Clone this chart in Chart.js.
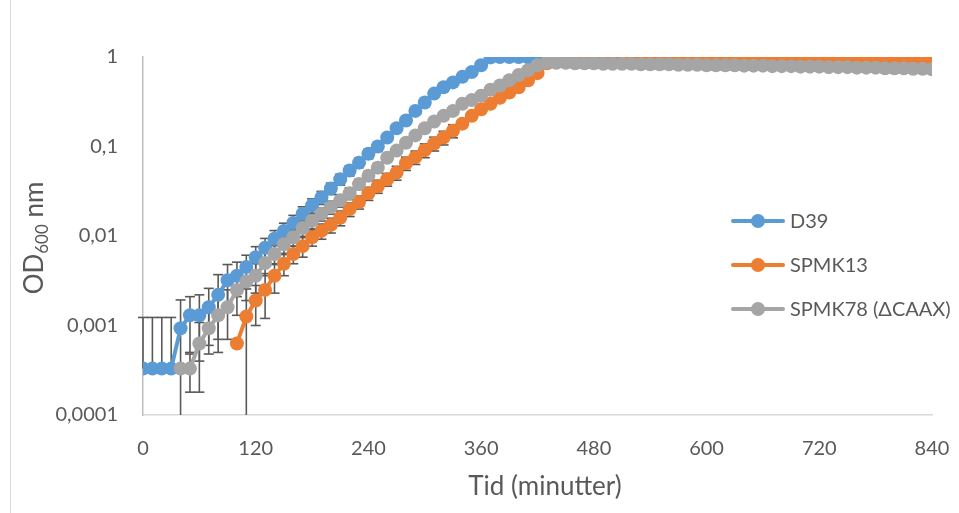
<!DOCTYPE html>
<html><head><meta charset="utf-8">
<script src="https://cdn.jsdelivr.net/npm/chart.js@4/dist/chart.umd.min.js"></script>
<style>html,body{margin:0;padding:0;background:#fff;}#wrap{width:959px;height:513px;position:relative;}</style>
</head><body><div id="wrap"><canvas id="c" width="959" height="513"></canvas></div>
<script>
const times = [0,10,20,30,40,50,60,70,80,90,100,110,120,130,140,150,160,170,180,190,200,210,220,230,240,250,260,270,280,290,300,310,320,330,340,350,360,370,380,390,400,410,420,430,440,450,460,470,480,490,500,510,520,530,540,550,560,570,580,590,600,610,620,630,640,650,660,670,680,690,700,710,720,730,740,750,760,770,780,790,800,810,820,830,840];
const seriesNames = ['D39','SPMK13','SPMK78 (ΔCAAX)'];
const d39 = [0.00033,0.00033,0.00033,0.00033,0.00093,0.0013,0.0013,0.0016,0.0022,0.0032,
 0.0036,0.0045,0.0058,0.0074,0.0093,0.0114,0.014,0.0177,0.022,0.027,
 0.034,0.043,0.054,0.066,0.083,0.10,0.126,0.16,0.195,0.25,
 0.31,0.39,0.46,0.52,0.60,0.68,0.81,0.99,1.0,1.0,
 1.0,0.99,0.99,0.99,
 1.0,1.0,1.0,1.0,1.0,1.0,1.0,1.0,0.99,0.99,0.99,
 0.99,0.99,0.99,0.99,0.99,0.99,0.99,0.99,0.99,0.99,
 0.99,0.99,0.98,0.98,0.98,0.98,0.98,0.98,0.98,0.98,
 0.98,0.98,0.98,0.98,0.98,0.98,0.97,0.97,0.97,0.97];
const spmk13 = [null,null,null,null,null,null,null,null,null,null,
 0.00063,0.00126,0.0019,0.0025,0.0036,0.0049,0.0063,0.0077,0.0097,0.0114,
 0.0133,0.016,0.020,0.024,0.030,0.036,0.043,0.051,0.065,0.076,
 0.091,0.108,0.126,0.15,0.18,0.22,0.26,0.30,0.35,0.40,
 0.46,0.55,0.66,0.85,
 0.97,1.0,0.99,0.98,0.97,0.97,0.97,0.97,0.96,0.96,0.96,
 0.96,0.96,0.96,0.95,0.95,0.95,0.95,0.95,0.95,0.95,
 0.94,0.94,0.94,0.94,0.94,0.94,0.94,0.93,0.93,0.93,
 0.93,0.93,0.93,0.93,0.93,0.93,0.92,0.92,0.92,0.92];
const spmk78 = [null,null,null,null,0.00033,0.00033,0.00063,0.00093,0.0013,0.0016,
 0.0025,0.0031,0.0036,0.0050,0.0063,0.0081,0.0097,0.0123,0.0148,0.0177,
 0.021,0.025,0.030,0.038,0.047,0.058,0.075,0.090,0.11,0.133,
 0.16,0.19,0.22,0.25,0.30,0.33,0.37,0.43,0.48,0.55,
 0.63,0.71,0.81,0.87,
 0.86,0.86,0.85,0.85,0.85,0.84,0.84,0.84,0.84,0.83,0.83,
 0.83,0.83,0.82,0.82,0.82,0.81,0.81,0.81,0.81,0.80,
 0.80,0.80,0.79,0.79,0.79,0.78,0.78,0.78,0.77,0.77,
 0.77,0.76,0.76,0.76,0.75,0.75,0.75,0.74,0.74,0.73];
const d39ErrUp = [0.0009,0.0009,0.0009,0.0009,0.001,0.0008,0.0009,0.001,0.0015,0.0016,0.0015,0.0016,0.0018,0.002,0.0022,0.0025,0.003,0.0035,0.004,0.0045,0.005,0.006,0.007,0.008,0.01,0.012];
const d39ErrDown = [0,0,0,0,0.001,0.0008,0.0009,0.001,0.0015,0.0016,0.0015,0.0016,0.0018,0.002,0.0022,0.0025,0.003,0.0035,0.004,0.0045,0.005,0.006,0.007,0.008,0.01,0.012];
const spmk13Err = [null,null,null,null,null,null,null,null,null,null,0,0.0013,0.0009,0.0013,0.0013,0.0013,0.0014,0.0019,0.002,0.0022,0.0025,0.003,0.0035,0.004,0.005,0.006,0.007,0.009,0.011,0.013,0.016,0.019,0.022,0.025];
const spmk78Err = [null,null,null,null,0,0.00015,0.00045,0.00045,0.0008,0.0009,0.0012,0.0012,0.0013,0.0014,0.0015,0.0017,0.002,0.0024,0.0028,0.003,0.0035,0.004,0.0045,0.005,0.006,0.007];
const xTicks = [0,120,240,360,480,600,720,840];
const yTicks = [0.0001,0.001,0.01,0.1,1];
const yTickLabels = ['0,0001','0,001','0,01','0,1','1'];
const xTitle = 'Tid (minutter)';
const yTitleMain = 'OD', yTitleSub = '600', yTitleRest = ' nm';

const colors = ['#5b9bd5','#ed7d31','#a5a5a5'];
const textColor = '#595959';
const FONT = 'Lato, Carlito, "Liberation Sans", sans-serif';

function pts(vals){ return times.map((t,i)=>({x:t,y:vals[i]})); }

const errorBars = {
  id:'errorBars',
  beforeDatasetsDraw(chart){
    const ctx = chart.ctx, xs = chart.scales.x, ys = chart.scales.y, area = chart.chartArea;
    ctx.save();
    ctx.strokeStyle = '#595959'; ctx.lineWidth = 1.6;
    chart.data.datasets.forEach(ds=>{
      const up = ds.errUp || [], dn = ds.errDown || [];
      ds.data.forEach((p,i)=>{
        if(p.y==null) return;
        const u = up[i], d = dn[i];
        if(u==null && d==null) return;
        const x = xs.getPixelForValue(p.x);
        const yc = ys.getPixelForValue(p.y);
        let yt = yc, yb = yc, capB = false, capT = false;
        if(u>0){ yt = ys.getPixelForValue(p.y+u); capT = true; }
        if(d>0){ const lo = p.y-d; if(lo>0){ yb = ys.getPixelForValue(lo); capB = true; } else { yb = area.bottom; } }
        ctx.beginPath(); ctx.moveTo(x,yt); ctx.lineTo(x,yb); ctx.stroke();
        if(capT){ ctx.beginPath(); ctx.moveTo(x-5,yt); ctx.lineTo(x+5,yt); ctx.stroke(); }
        if(capB){ ctx.beginPath(); ctx.moveTo(x-5,yb); ctx.lineTo(x+5,yb); ctx.stroke(); }
      });
    });
    ctx.restore();
  }
};

const decor = {
  id:'decor',
  afterDraw(chart){
    const ctx = chart.ctx;
    ctx.save();
    ctx.strokeStyle = '#d9d9d9'; ctx.lineWidth = 1;
    ctx.beginPath(); ctx.moveTo(10.5,0); ctx.lineTo(10.5,513); ctx.stroke();
    const rows = [221,265,309];
    chart.data.datasets.forEach((ds,i)=>{
      const y = rows[i];
      ctx.strokeStyle = colors[i]; ctx.lineWidth = 4; ctx.lineCap='round';
      ctx.beginPath(); ctx.moveTo(733,y); ctx.lineTo(783,y); ctx.stroke();
      ctx.fillStyle = colors[i];
      ctx.beginPath(); ctx.arc(758,y,7,0,Math.PI*2); ctx.fill();
      ctx.fillStyle = textColor; ctx.font = '20px '+FONT; ctx.textAlign='left'; ctx.textBaseline='middle';
      ctx.fillText(ds.label, 790, y+1);
    });
    ctx.fillStyle = textColor; ctx.font = '26px '+FONT; ctx.textAlign='center'; ctx.textBaseline='middle';
    ctx.fillText(xTitle, 545, 487);
    ctx.translate(34, 238); ctx.rotate(-Math.PI/2);
    ctx.font = '26px '+FONT; const w1 = ctx.measureText(yTitleMain).width, w3 = ctx.measureText(yTitleRest).width;
    ctx.font = '17px '+FONT; const w2 = ctx.measureText(yTitleSub).width;
    let x0 = -(w1+w2+w3)/2;
    ctx.textAlign='left'; ctx.textBaseline='alphabetic';
    ctx.font = '26px '+FONT; ctx.fillText(yTitleMain, x0, 9);
    ctx.font = '17px '+FONT; ctx.fillText(yTitleSub, x0+w1, 14);
    ctx.font = '26px '+FONT; ctx.fillText(yTitleRest, x0+w1+w2, 9);
    ctx.restore();
  }
};

new Chart(document.getElementById('c'), {
  type:'line',
  data:{ datasets:[
    {label:seriesNames[0], data:pts(d39), errUp:d39ErrUp, errDown:d39ErrDown, borderColor:colors[0], backgroundColor:colors[0], pointBackgroundColor:colors[0], pointBorderColor:colors[0], borderWidth:4, pointRadius:7, pointBorderWidth:0, order:3},
    {label:seriesNames[1], data:pts(spmk13), errUp:spmk13Err, errDown:spmk13Err, borderColor:colors[1], backgroundColor:colors[1], pointBackgroundColor:colors[1], pointBorderColor:colors[1], borderWidth:4, pointRadius:7, pointBorderWidth:0, order:2},
    {label:seriesNames[2], data:pts(spmk78), errUp:spmk78Err, errDown:spmk78Err, borderColor:colors[2], backgroundColor:colors[2], pointBackgroundColor:colors[2], pointBorderColor:colors[2], borderWidth:4, pointRadius:7, pointBorderWidth:0, order:1}
  ]},
  options:{
    responsive:false, animation:false, devicePixelRatio:1,
    layout:{padding:{top:57,right:27,bottom:0,left:0}},
    plugins:{legend:{display:false}, tooltip:{enabled:false}},
    elements:{line:{tension:0}},
    scales:{
      x:{type:'linear', min:0, max:840,
        afterBuildTicks:s=>{ s.ticks = xTicks.map(v=>({value:v})); },
        ticks:{color:textColor, font:{family:FONT,size:20}, padding:22, maxRotation:0, autoSkip:false},
        grid:{display:false, drawTicks:false},
        border:{display:true, color:'#d9d9d9', width:1.5},
        afterFit:s=>{ s.height = 98; s.paddingLeft = 0; s.paddingRight = 0; }
      },
      y:{type:'logarithmic', min:0.0001, max:1,
        afterBuildTicks:s=>{ s.ticks = yTicks.map(v=>({value:v})); },
        ticks:{color:textColor, font:{family:FONT,size:20}, padding:25, autoSkip:false, callback:(v,i)=>yTickLabels[i]},
        grid:{display:false, drawTicks:false},
        border:{display:true, color:'#bfbfbf', width:1.5},
        afterFit:s=>{ s.width = 143; s.paddingTop = 0; s.paddingBottom = 0; }
      }
    }
  },
  plugins:[errorBars, decor]
});
</script></body></html>
